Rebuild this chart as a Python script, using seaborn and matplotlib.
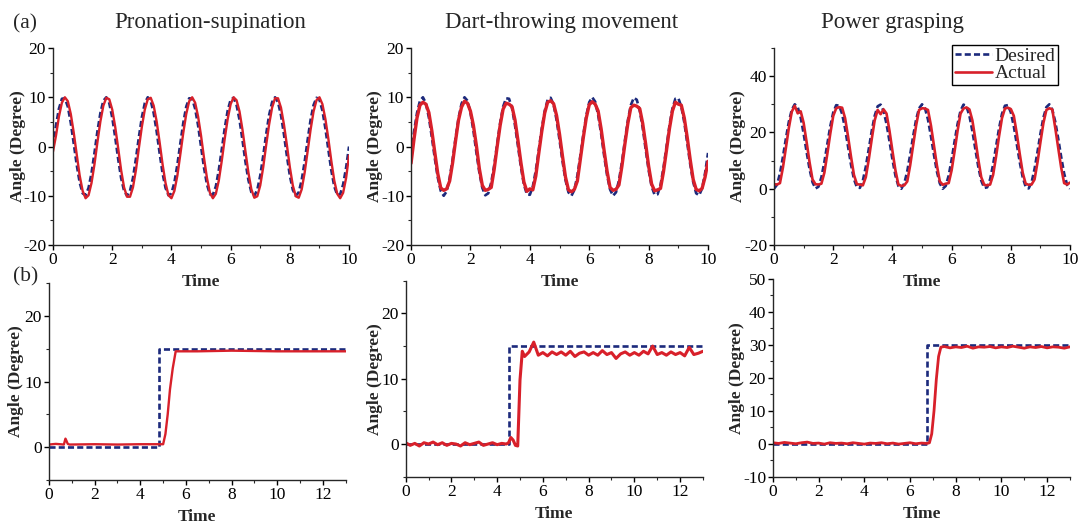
import numpy as np
import matplotlib
matplotlib.use('Agg')
import matplotlib.pyplot as plt
from matplotlib.ticker import MultipleLocator
import seaborn as sns

# ─── 데이터: (a) 주기 추종 ────────────────────────────────────────────────
t_cycle = np.round(np.linspace(0, 10, 101), 2)

ps_desired = [
    0.0, 4.3, 7.7, 9.7, 9.8, 8.1, 4.8, 0.6, -3.7, -7.3,
    -9.5, -9.9, -8.4, -5.4, -1.3, 3.1, 6.8, 9.3, 10.0, 8.8,
    5.9, 1.9, -2.5, -6.4, -9.0, -10.0, -9.0, -6.4, -2.5, 1.9,
    5.9, 8.8, 10.0, 9.3, 6.8, 3.1, -1.3, -5.4, -8.4, -9.9,
    -9.5, -7.3, -3.7, 0.6, 4.8, 8.1, 9.8, 9.7, 7.7, 4.3,
    0.0, -4.3, -7.7, -9.7, -9.8, -8.1, -4.8, -0.6, 3.7, 7.3,
    9.5, 9.9, 8.4, 5.4, 1.3, -3.1, -6.8, -9.3, -10.0, -8.8,
    -5.9, -1.9, 2.5, 6.4, 9.0, 10.0, 9.0, 6.4, 2.5, -1.9,
    -5.9, -8.8, -10.0, -9.3, -6.8, -3.1, 1.3, 5.4, 8.4, 9.9,
    9.5, 7.3, 3.7, -0.6, -4.8, -8.1, -9.8, -9.7, -7.7, -4.3, 0.0]
ps_actual = [
    -1.0, 2.2, 6.1, 8.9, 10.0, 9.2, 6.6, 2.8, -1.6, -5.9,
    -9.0, -10.5, -9.9, -7.4, -3.6, 0.9, 5.1, 8.3, 9.9, 9.6,
    7.5, 4.0, -0.3, -4.8, -8.3, -10.2, -10.2, -8.3, -4.8, -0.3,
    4.0, 7.5, 9.6, 9.9, 8.3, 5.1, 0.9, -3.6, -7.4, -9.9,
    -10.5, -9.0, -5.9, -1.6, 2.8, 6.6, 9.2, 10.0, 8.9, 6.1,
    2.2, -2.3, -6.4, -9.4, -10.5, -9.6, -6.9, -2.9, 1.6, 5.6,
    8.6, 10.0, 9.4, 7.1, 3.4, -1.0, -5.3, -8.7, -10.4, -10.1,
    -7.9, -4.2, 0.3, 4.5, 7.9, 9.8, 9.8, 7.9, 4.5, 0.3,
    -4.2, -7.9, -10.1, -10.4, -8.7, -5.3, -1.0, 3.4, 7.1, 9.4,
    10.0, 8.6, 5.6, 1.6, -2.9, -6.9, -9.6, -10.5, -9.4, -6.4, -1.8]

dt_desired = [
    -1.3, 3.0, 6.8, 9.3, 10.0, 8.8, 5.9, 1.9, -2.4, -6.3,
    -9.0, -10.0, -9.1, -6.4, -2.6, 1.8, 5.8, 8.7, 10.0, 9.3,
    6.9, 3.2, -1.2, -5.3, -8.4, -9.9, -9.5, -7.3, -3.8, 0.6,
    4.8, 8.1, 9.8, 9.7, 7.8, 4.3, 0.1, -4.2, -7.7, -9.7,
    -9.8, -8.1, -4.9, -0.7, 3.6, 7.2, 9.5, 9.9, 8.5, 5.4,
    1.3, -3.0, -6.8, -9.3, -10.0, -8.8, -5.9, -1.9, 2.4, 6.3,
    9.0, 10.0, 9.1, 6.4, 2.6, -1.8, -5.8, -8.7, -10.0, -9.3,
    -6.9, -3.2, 1.2, 5.3, 8.4, 9.9, 9.5, 7.3, 3.8, -0.6,
    -4.8, -8.1, -9.8, -9.7, -7.8, -4.3, -0.1, 4.2, 7.7, 9.7,
    9.8, 8.1, 4.9, 0.7, -3.6, -7.2, -9.5, -9.9, -8.5, -5.4, -1.3]
dt_actual = [
    -3.4, 1.5, 5.8, 8.4, 9.0, 8.6, 6.9, 3.2, -1.2, -5.5,
    -8.4, -8.9, -8.6, -7.0, -3.3, 1.2, 5.4, 8.0, 9.2, 8.8,
    7.2, 4.3, 0.2, -4.5, -7.9, -8.9, -8.7, -8.3, -4.6, 0.0,
    4.3, 7.6, 8.8, 8.6, 8.1, 5.4, 1.2, -3.3, -7.2, -9.1,
    -8.6, -8.8, -6.0, -1.4, 3.0, 6.8, 9.0, 9.3, 8.7, 6.3,
    2.5, -2.0, -6.2, -8.8, -9.2, -8.7, -7.0, -2.6, 1.8, 5.8,
    8.5, 9.1, 8.6, 7.2, 3.6, -0.8, -5.0, -8.3, -8.9, -8.7,
    -7.8, -4.0, 0.5, 4.7, 7.9, 8.4, 8.2, 7.7, 4.7, 0.5,
    -4.0, -7.6, -9.0, -8.8, -8.5, -5.1, -0.8, 3.6, 7.2, 9.0,
    8.6, 8.4, 5.8, 1.8, -2.7, -6.7, -8.7, -9.0, -8.5, -6.2, -3.0]

pg_desired = [
    0.0, 1.4, 5.4, 11.3, 17.8, 23.8, 28.1, 30.0, 29.0, 25.3,
    19.6, 13.1, 7.0, 2.3, 0.1, 0.7, 4.1, 9.5, 15.9, 22.2,
    27.1, 29.7, 29.5, 26.6, 21.4, 15.0, 8.6, 3.4, 0.5, 0.3,
    2.9, 7.8, 14.1, 20.5, 25.9, 29.3, 29.9, 27.7, 23.0, 16.9,
    10.4, 4.7, 1.0, 0.0, 1.9, 6.2, 12.2, 18.7, 24.6, 28.6,
    30.0, 28.6, 24.6, 18.7, 12.2, 6.2, 1.9, 0.0, 1.0, 4.7,
    10.4, 16.9, 23.0, 27.7, 29.9, 29.3, 25.9, 20.5, 14.1, 7.8,
    2.9, 0.3, 0.5, 3.4, 8.6, 15.0, 21.4, 26.6, 29.5, 29.7,
    27.1, 22.2, 15.9, 9.5, 4.1, 0.7, 0.1, 2.3, 7.0, 13.1,
    19.6, 25.3, 29.0, 30.0, 28.1, 23.8, 17.8, 11.3, 5.4, 1.4, 0.0]
pg_actual = [
    1.6, 1.5, 2.0, 7.5, 14.5, 21.6, 27.4, 29.5, 26.8, 27.5,
    23.4, 16.6, 9.4, 3.3, 1.6, 1.5, 1.8, 5.7, 12.4, 19.6,
    25.9, 28.6, 29.0, 28.8, 25.1, 18.6, 11.4, 4.9, 1.6, 1.5,
    1.2, 4.1, 10.4, 17.6, 24.3, 28.0, 26.5, 28.2, 26.7, 20.6,
    13.4, 6.6, 1.5, 1.0, 1.2, 2.6, 8.4, 15.5, 22.5, 28.0,
    28.6, 28.5, 28.0, 22.5, 15.5, 8.4, 2.6, 1.4, 1.8, 2.0,
    6.6, 13.4, 20.6, 26.7, 28.5, 28.9, 28.2, 24.3, 17.6, 10.4,
    4.1, 1.4, 1.2, 1.5, 4.9, 11.4, 18.6, 25.1, 28.5, 28.8,
    28.3, 25.9, 19.6, 12.4, 5.7, 1.8, 1.4, 1.5, 3.3, 9.4,
    16.6, 23.4, 28.0, 28.6, 28.2, 21.6, 14.5, 7.5, 2.0, 1.5, 2.2]

# ─── 데이터: (b) 계단 응답 ────────────────────────────────────────────────
ps_step_t = [0, 4.8, 4.8, 13]
ps_step_desired = [0, 0, 15, 15]
ps_resp_t = [0, 0.3, 0.65, 0.72, 0.76, 0.82, 0.9, 2.0, 3.0, 4.0, 5.0,
             5.1, 5.2, 5.3, 5.42, 5.55, 6.5, 8.0, 10.0, 13.0]
ps_resp = [0.4, 0.5, 0.4, 1.3, 1.0, 0.5, 0.4, 0.45, 0.4, 0.45, 0.45,
           2.0, 5.0, 8.8, 12.0, 14.6, 14.6, 14.7, 14.6, 14.6]

dt_step_t = [0, 4.52, 4.52, 13]
dt_step_desired = [0, 0, 15, 15]
dt_resp_t = list(np.round(np.arange(0, 4.41, 0.2), 2)) + \
    [4.5, 4.6, 4.7, 4.8, 4.9, 5.0, 5.1] + \
    list(np.round(np.arange(5.2, 13.01, 0.2), 2))
dt_resp = [0.2, -0.2, 0.1, -0.3, 0.2, 0.0, 0.3, -0.1, 0.2, -0.2, 0.1, 0.0,
           -0.3, 0.2, -0.1, 0.1, 0.3, -0.2, 0.0, 0.2, -0.1, 0.1, 0.0,
           0.2, 1.0, 0.6, -0.2, -0.3, 9.8, 14.2,
           13.4, 14.1, 15.6, 13.6, 14.0, 13.5, 14.1, 13.7, 14.1, 13.6,
           14.2, 13.4, 13.9, 14.1, 13.6, 14.0, 13.6, 14.3, 13.7, 14.0,
           13.1, 13.8, 14.1, 13.6, 14.0, 13.6, 14.2, 13.8, 15.0, 13.7,
           14.0, 13.6, 14.1, 13.7, 14.0, 13.5, 14.8, 13.7, 13.9, 14.2]

pg_step_t = [0, 6.75, 6.75, 13]
pg_step_desired = [0, 0, 30, 30]
pg_resp_t = list(np.round(np.arange(0, 6.76, 0.25), 2)) + \
    [6.85, 6.95, 7.05, 7.15, 7.25, 7.35] + \
    list(np.round(np.arange(7.5, 13.01, 0.25), 2))
pg_resp = [0.3, 0.1, 0.4, 0.2, 0.0, 0.3, 0.5, 0.1, 0.2, -0.1, 0.3, 0.1, 0.2, 0.0,
           0.3, 0.1, -0.1, 0.2, 0.1, 0.3, 0.0, 0.2, -0.1, 0.1, 0.3, 0.0, 0.2, 0.1,
           0.3, 3.0, 10.0, 19.5, 26.5, 29.3,
           29.5, 29.1, 29.4, 29.2, 29.6, 29.0, 29.4, 29.3, 29.5, 29.1, 29.4, 29.2,
           29.6, 29.3, 29.0, 29.4, 29.2, 29.5, 29.1, 29.4, 29.3, 29.0, 29.4]

titles = ['Pronation-supination', 'Dart-throwing movement', 'Power grasping']

# ─── 스타일 ────────────────────────────────────────────────────────────────
sns.set_style('ticks')
plt.rcParams['font.family'] = ['Liberation Serif', 'DejaVu Serif']
plt.rcParams['axes.unicode_minus'] = False
plt.rcParams['axes.linewidth'] = 1.0

BLUE = '#1c2a7c'
RED = '#d8202a'
DASH = (0, (2.3, 1.2))

fig = plt.figure(figsize=(10.8, 5.25), dpi=100)

# 축 위치 (figure 비율)
pos = [
    [0.0491, 0.5333, 0.2741, 0.3752],
    [0.3806, 0.5333, 0.2750, 0.3752],
    [0.7167, 0.5333, 0.2741, 0.3752],
    [0.0454, 0.0857, 0.2747, 0.3752],
    [0.3756, 0.0920, 0.2753, 0.3733],
    [0.7157, 0.0920, 0.2750, 0.3766],
]
axes = [fig.add_axes(p) for p in pos]
for ax in axes:
    ax.set_facecolor('none')

top_sets = [(ps_desired, ps_actual, 1.7), (dt_desired, dt_actual, 2.4),
            (pg_desired, pg_actual, 1.9)]
for ax, (des, act, lw) in zip(axes[:3], top_sets):
    sns.lineplot(x=t_cycle, y=des, ax=ax, color=BLUE, linewidth=1.9,
                 linestyle=DASH, estimator=None, sort=False, label='Desired')
    sns.lineplot(x=t_cycle, y=act, ax=ax, color=RED, linewidth=lw,
                 estimator=None, sort=False, label='Actual')

bottom_sets = [(ps_step_t, ps_step_desired, ps_resp_t, ps_resp, 1.7),
               (dt_step_t, dt_step_desired, dt_resp_t, dt_resp, 2.2),
               (pg_step_t, pg_step_desired, pg_resp_t, pg_resp, 2.0)]
for ax, (st, sd, rt, rv, lw) in zip(axes[3:], bottom_sets):
    sns.lineplot(x=st, y=sd, ax=ax, color=BLUE, linewidth=1.9,
                 linestyle=DASH, estimator=None, sort=False, legend=False)
    sns.lineplot(x=rt, y=rv, ax=ax, color=RED, linewidth=lw,
                 estimator=None, sort=False, legend=False)

ylims = [(-20, 20, 10), (-20, 20, 10), (-20, 50, 20),
         (-5, 25, 10), (-5, 25, 10), (-10, 50, 10)]
xlims = [10, 10, 10, 13, 13, 13]
ylab_x = [-0.12, -0.121, -0.123, -0.11, -0.103, -0.12]
for i, ax in enumerate(axes):
    lo, hi, step = ylims[i]
    ax.set_ylim(lo, hi)
    ax.set_xlim(0, xlims[i])
    ax.yaxis.set_major_locator(MultipleLocator(step))
    ax.yaxis.set_minor_locator(MultipleLocator(step / 2))
    ax.xaxis.set_major_locator(MultipleLocator(2))
    ax.xaxis.set_minor_locator(MultipleLocator(1))
    sns.despine(ax=ax)
    ax.tick_params(which='major', direction='out', length=3.5, width=1,
                   labelsize=12.5, pad=1.5, colors='black')
    ax.tick_params(which='minor', direction='out', length=2.5, width=0.8)
    ax.set_xlabel('Time', fontsize=12.5, fontweight='bold', va='center')
    ax.set_ylabel('Angle (Degree)', fontsize=12.5, fontweight='bold', va='center')
    h_px = ax.get_position().height * 525
    ax.xaxis.set_label_coords(0.5, -37.0 / h_px)
    ax.yaxis.set_label_coords(ylab_x[i], 0.5)
    if i != 2 and ax.get_legend() is not None:
        ax.get_legend().remove()

leg = axes[2].legend(loc='upper right', bbox_to_anchor=(0.958, 1.016),
                     fontsize=14, frameon=True, fancybox=False,
                     edgecolor='black', framealpha=1, handlelength=1.9,
                     handletextpad=0.15, borderpad=0.12, labelspacing=0.0,
                     borderaxespad=0.0)
leg.get_frame().set_linewidth(1.0)

# 제목 및 패널 라벨
title_x = [210, 562, 892]
for tx, title in zip(title_x, titles):
    fig.text(tx / 1080, 1 - 28.3 / 525, title, ha='center', va='baseline',
             fontsize=16.5)
fig.text(13 / 1080, 1 - 28.3 / 525, '(a)', ha='left', va='baseline', fontsize=15.5)
fig.text(13 / 1080, 1 - 281.7 / 525, '(b)', ha='left', va='baseline', fontsize=15.5)

plt.savefig('out.png', dpi=100, facecolor='white')
plt.close()
